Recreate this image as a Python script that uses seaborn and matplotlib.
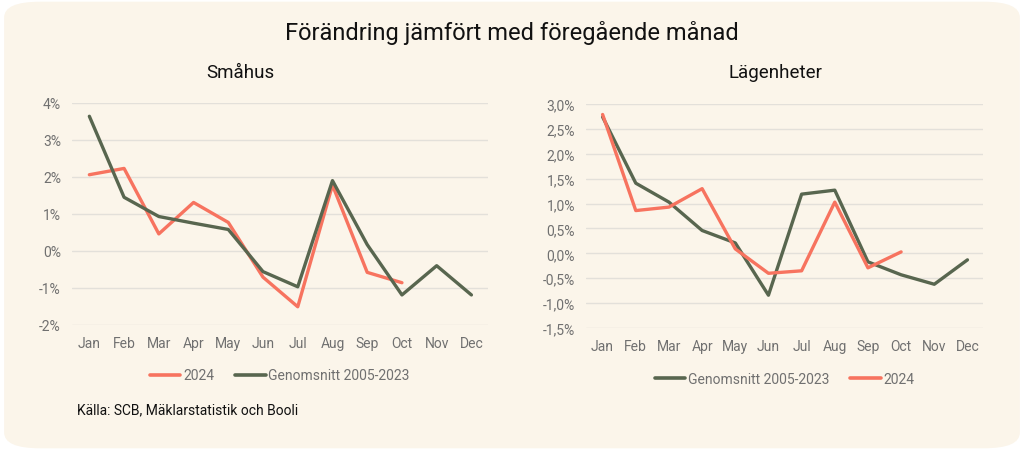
import matplotlib.pyplot as plt
import matplotlib.ticker as mticker
from matplotlib.patches import FancyBboxPatch
from matplotlib.lines import Line2D
import pandas as pd
import seaborn as sns

months = ['Jan', 'Feb', 'Mar', 'Apr', 'May', 'Jun', 'Jul', 'Aug', 'Sep',
          'Oct', 'Nov', 'Dec']

# Småhus, change vs previous month (%)
smahus_2024 = [2.06, 2.23, 0.46, 1.31, 0.77, -0.71, -1.51, 1.78, -0.58, -0.86]
smahus_avg = [3.64, 1.45, 0.93, 0.75, 0.58, -0.56, -0.97, 1.90, 0.17, -1.19,
              -0.40, -1.19]

# Lägenheter, change vs previous month (%)
lgh_2024 = [2.79, 0.86, 0.93, 1.30, 0.09, -0.40, -0.35, 1.03, -0.29, 0.03]
lgh_avg = [2.74, 1.41, 1.03, 0.46, 0.21, -0.84, 1.19, 1.27, -0.17, -0.43,
           -0.62, -0.13]

label_2024 = '2024'
label_avg = 'Genomsnitt 2005-2023'

BG = '#FBF5EA'
RED = '#F7735F'
GREEN = '#58664F'
GREY = '#707070'

sns.set_style('white')
plt.rcParams['font.family'] = ['Roboto', 'DejaVu Sans']


def long_frame(s2024, savg):
    '''build one long table for seaborn'''
    rows = []
    for i, v in enumerate(s2024):
        rows.append({'x': i, 'val': v, 'serie': label_2024})
    for i, v in enumerate(savg):
        rows.append({'x': i, 'val': v, 'serie': label_avg})
    return pd.DataFrame(rows)


def draw_panel(ax, df, ylim, ystep, fmt, order):
    palette = {label_2024: RED, label_avg: GREEN}
    sns.lineplot(data=df, x='x', y='val', hue='serie', hue_order=order,
                 palette=palette, linewidth=2.4, ax=ax, legend=False)
    ax.set_facecolor(BG)
    ax.set_ylim(*ylim)
    ax.set_xlim(-0.5, 11.47)
    ax.yaxis.set_major_locator(mticker.MultipleLocator(ystep))
    ax.yaxis.set_major_formatter(mticker.FuncFormatter(fmt))
    ax.set_xticks(range(12))
    ax.set_xticklabels(months)
    ax.grid(axis='y', color='#E3E0DA', linewidth=1)
    ax.set_axisbelow(True)
    for s in ax.spines.values():
        s.set_visible(False)
    ax.tick_params(colors=GREY, labelsize=10, length=0, pad=8)
    ax.set_xlabel('')
    ax.set_ylabel('')
    handles = [Line2D([], [], color=palette[k], linewidth=2.6) for k in order]
    ax.legend(handles, order, loc='upper center', bbox_to_anchor=(0.5, -0.14),
              ncol=2, frameon=False, fontsize=10, handlelength=2.2,
              handletextpad=0.2, columnspacing=1.5, labelcolor=GREY)


fig = plt.figure(figsize=(10.24, 4.52), dpi=100)
fig.patch.set_facecolor('white')
fig.patches.append(FancyBboxPatch((0.004, 0.006), 0.992, 0.988,
                                  boxstyle='round,pad=0,rounding_size=0.035',
                                  transform=fig.transFigure, facecolor=BG,
                                  edgecolor='none', zorder=-10))

ax1 = fig.add_axes([0.0703, 0.279, 0.406, 0.491])
ax2 = fig.add_axes([0.5723, 0.272, 0.3877, 0.4956])

draw_panel(ax1, long_frame(smahus_2024, smahus_avg), (-2, 4), 1,
           lambda v, p: f'{v:.0f}%', [label_2024, label_avg])
draw_panel(ax2, long_frame(lgh_2024, lgh_avg), (-1.5, 3.0), 0.5,
           lambda v, p: f'{v:.1f}%'.replace('.', ','), [label_avg, label_2024])

fig.text(0.5, 0.927, 'Förändring jämfört med föregående månad',
         ha='center', va='center', fontsize=17, color='#111111')
fig.text(0.235, 0.838, 'Småhus', ha='center', va='center', fontsize=13.5,
         color='#111111')
fig.text(0.757, 0.838, 'Lägenheter', ha='center', va='center', fontsize=13.5,
         color='#111111')
fig.text(0.075, 0.093, 'Källa: SCB, Mäklarstatistik och Booli', ha='left',
         va='center', fontsize=10, color='#111111')

plt.savefig('out.png', dpi=100, facecolor=fig.get_facecolor())
